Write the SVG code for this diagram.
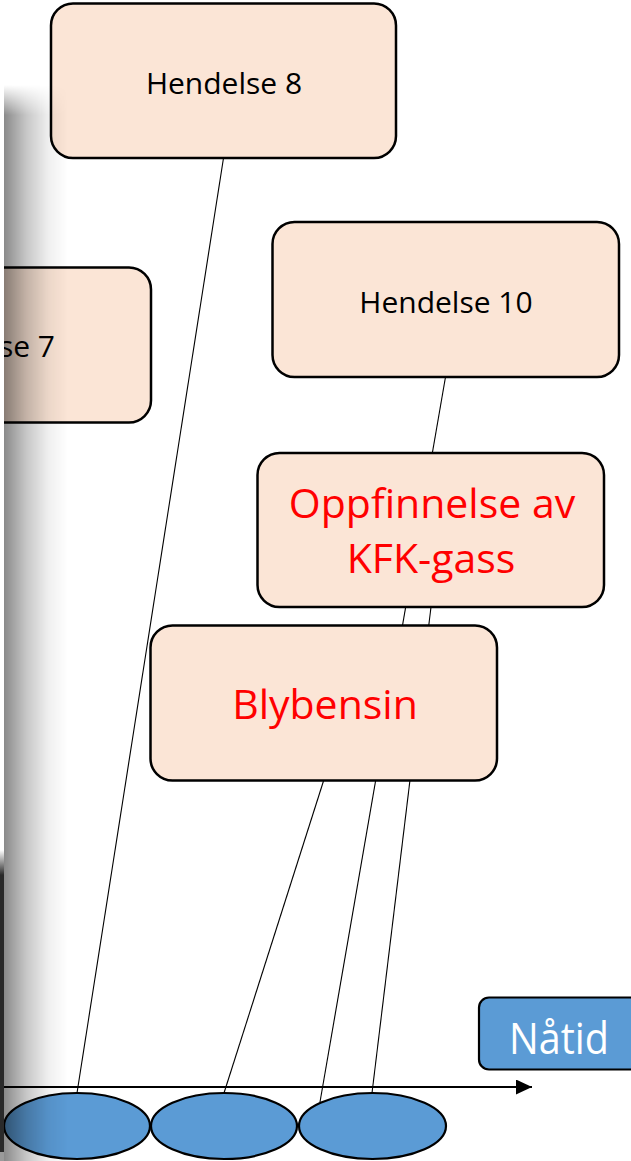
<svg xmlns="http://www.w3.org/2000/svg" width="631" height="1161" viewBox="0 0 631 1161">
<style>
.box{fill:#FBE5D6;stroke:#000;stroke-width:2.5}
.lbl{font-family:"Open Sans","Liberation Sans",sans-serif;font-size:30px;fill:#000;text-anchor:middle}
.big{font-family:"Open Sans","Liberation Sans",sans-serif;font-size:41px;fill:#FF0000;text-anchor:middle}
.ev{fill:#5B9BD5;stroke:#000;stroke-width:2.2}
.conn{stroke:#000;stroke-width:1.1;fill:none}
</style>
<defs>
<marker id="arr" markerUnits="userSpaceOnUse" markerWidth="17" markerHeight="15" refX="16" refY="7.5" orient="auto">
<path d="M0,0 L16,7.5 L0,15 Z" fill="#000"/>
</marker>
<linearGradient id="shadeH" x1="0" y1="0" x2="1" y2="0">
<stop offset="0" stop-color="#000" stop-opacity="0.46"/>
<stop offset="0.35" stop-color="#000" stop-opacity="0.22"/>
<stop offset="0.7" stop-color="#000" stop-opacity="0.06"/>
<stop offset="1" stop-color="#000" stop-opacity="0"/>
</linearGradient>
<linearGradient id="fadeV" x1="0" y1="0" x2="0" y2="1">
<stop offset="0" stop-color="#fff" stop-opacity="0"/>
<stop offset="1" stop-color="#fff" stop-opacity="1"/>
</linearGradient>
<linearGradient id="darkV" x1="0" y1="0" x2="0" y2="1">
<stop offset="0" stop-color="#2a2a2a" stop-opacity="0"/>
<stop offset="1" stop-color="#2a2a2a" stop-opacity="1"/>
</linearGradient>
<mask id="shmask" maskUnits="userSpaceOnUse" x="0" y="0" width="631" height="1161">
<rect x="0" y="85" width="100" height="30" fill="url(#fadeV)"/>
<rect x="0" y="115" width="100" height="1046" fill="#fff"/>
</mask>
</defs>
<rect width="631" height="1161" fill="#fff"/>

<g id="connectors">
<line class="conn" x1="223.5" y1="158" x2="77" y2="1093"/>
<line class="conn" x1="445.5" y1="377" x2="320" y2="1102"/>
<line class="conn" x1="431" y1="607" x2="372" y2="1093"/>
<line class="conn" x1="323.5" y1="781" x2="224" y2="1093"/>
<line x1="4" y1="1087" x2="532" y2="1087" stroke="#000" stroke-width="2.2" marker-end="url(#arr)"/>
</g>

<g id="hendelse8">
<rect class="box" x="51" y="3.5" width="345" height="154.5" rx="22"/>
<text class="lbl" x="224" y="94">Hendelse 8</text>
</g>
<g id="hendelse7">
<rect class="box" x="-200" y="267.5" width="351" height="155" rx="22"/>
<text class="lbl" x="55" y="357" style="text-anchor:end">Hendelse 7</text>
</g>
<g id="hendelse10">
<rect class="box" x="272.5" y="222" width="346.5" height="155" rx="22"/>
<text class="lbl" x="446" y="313">Hendelse 10</text>
</g>
<g id="kfk">
<rect class="box" x="257.5" y="453" width="346.5" height="154" rx="22"/>
<text class="big" x="432" y="518">Oppfinnelse av</text>
<text class="big" x="431" y="573">KFK-gass</text>
</g>
<g id="blybensin">
<rect class="box" x="150.5" y="625.5" width="346.5" height="155" rx="22"/>
<text class="big" x="325" y="719">Blybensin</text>
</g>

<g id="event1"><ellipse class="ev" cx="77" cy="1126" rx="73" ry="33"/></g>
<g id="event2"><ellipse class="ev" cx="224" cy="1126" rx="73" ry="33"/></g>
<g id="event3"><ellipse class="ev" cx="372.5" cy="1126" rx="73.5" ry="33"/></g>

<g id="natid">
<rect x="479" y="997.5" width="170" height="72" rx="10" fill="#5B9BD5" stroke="#000" stroke-width="2.2"/>
<text x="559" y="1054" textLength="100" lengthAdjust="spacingAndGlyphs" style="font-family:'Open Sans','Liberation Sans',sans-serif;font-size:44px;fill:#fff;text-anchor:middle">Nåtid</text>
</g>

<g id="slide-edge">
<rect x="4" y="0" width="64" height="1161" fill="url(#shadeH)" mask="url(#shmask)"/>
<rect x="0" y="95" width="4" height="760" fill="#fff"/>
<rect x="0" y="850" width="4" height="25" fill="url(#darkV)"/>
<rect x="0" y="875" width="4" height="277" fill="#2a2a2a"/>
<rect x="0" y="1152" width="4" height="9" fill="#9a9a9a"/>
</g>
</svg>
